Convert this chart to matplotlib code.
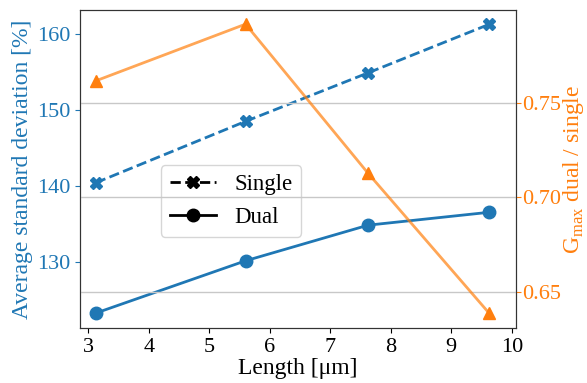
import matplotlib
matplotlib.use("Agg")
import matplotlib.pyplot as plt
from matplotlib.lines import Line2D

plt.rcParams["font.family"] = ["Liberation Serif", "DejaVu Serif"]
plt.rcParams["mathtext.fontset"] = "custom"
plt.rcParams["mathtext.rm"] = "Liberation Serif"

length_um = [3.125, 5.6, 7.625, 9.625]
std_single = [140.4, 148.5, 154.9, 161.3]
std_dual = [123.2, 130.1, 134.8, 136.5]
gmax_ratio = [0.7615, 0.7915, 0.7126, 0.6386]

blue = "#1f77b4"
orange = "#ff7f0e"

fig, ax1 = plt.subplots(figsize=(5.87, 3.83), dpi=100)
ax2 = ax1.twinx()

ax1.plot(length_um, std_single, color=blue, linestyle="--", marker="X",
         markersize=9, linewidth=2)
ax1.plot(length_um, std_dual, color=blue, linestyle="-", marker="o",
         markersize=9, linewidth=2)
ax2.plot(length_um, gmax_ratio, color=(1.0, 0.5, 0.055, 0.7), marker="^",
         markersize=8, linewidth=2, markerfacecolor=orange, markeredgecolor=orange)

ax1.set_xlim(2.87, 10.07)
ax1.set_ylim(121.2, 163.2)
ax2.set_ylim(0.6306, 0.799)
ax1.set_xticks(range(3, 11))
ax1.set_yticks([130, 140, 150, 160])
ax2.set_yticks([0.65, 0.70, 0.75])
ax2.set_yticklabels(["0.65", "0.70", "0.75"])

ax2.grid(True, axis="y", color="#c8c8c8", linewidth=1)

ax1.set_xlabel("Length [\u03bcm]", fontsize=17, labelpad=1)
ax1.set_ylabel("Average standard deviation [%]", fontsize=17, color=blue)
ax2.set_ylabel(r"G$_{\rm max}$ dual / single", fontsize=17, color=orange)
ax1.yaxis.set_label_coords(-0.108, 0.5)
ax2.yaxis.set_label_coords(1.103, 0.5)

ax1.tick_params(axis="x", labelsize=16)
ax1.tick_params(axis="y", labelsize=16, colors=blue)
ax2.tick_params(axis="y", labelsize=16, colors=orange, pad=1)
for ax in (ax1, ax2):
    for s in ax.spines.values():
        s.set_color("#333333")

handles = [Line2D([], [], color="black", linestyle="--", marker="X", markersize=9, linewidth=2),
           Line2D([], [], color="black", linestyle="-", marker="o", markersize=9, linewidth=2)]
ax1.legend(handles, ["Single", "Dual"], fontsize=16.5, loc="center left",
           bbox_to_anchor=(0.158, 0.40))

fig.subplots_adjust(left=0.137, right=0.879, top=0.974, bottom=0.143)
fig.savefig("out.png", dpi=100)
